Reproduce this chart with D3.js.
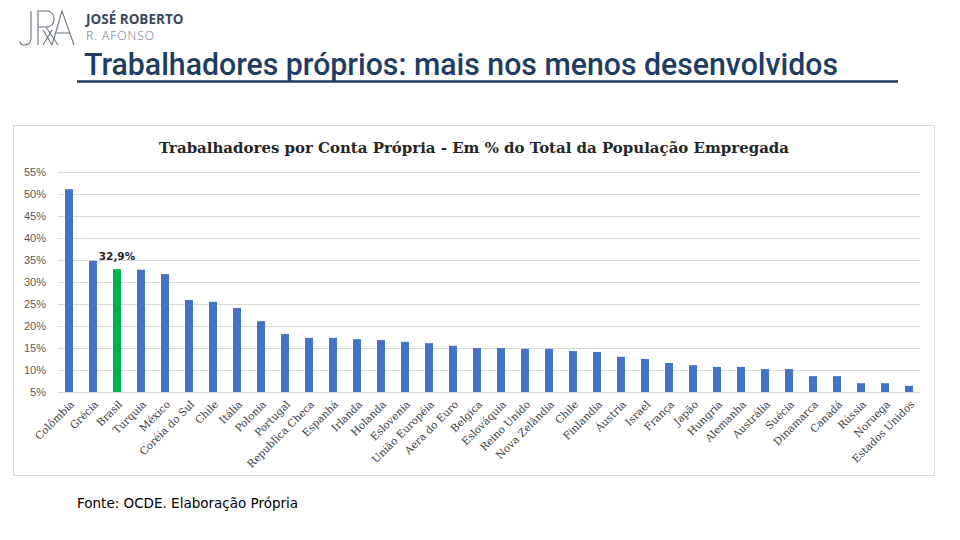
<!DOCTYPE html>
<html><head><meta charset="utf-8">
<script src="https://cdn.jsdelivr.net/npm/d3@7"></script>
<style>body{margin:0;background:#fff}svg{display:block}</style>
</head><body>
<svg id="c" width="960" height="540"></svg>
<script>
const countries = ["Colômbia","Grécia","Brasil","Turquia","México","Coréia do Sul","Chile","Itália","Polonia","Portugal","Republica Checa","Espanhá","Irlanda","Holanda","Eslovenia","União Européia","Aera do Euro","Belgica","Eslováquia","Reino Unido","Nova Zelândia","Chile","Finlandia","Áustria","Israel","França","Japão","Hungria","Alemanha","Austrália","Suécia","Dinamarca","Canadá","Rússia","Noruega","Estados Unidos"];
const values = [51.1,34.8,32.9,32.8,31.8,25.9,25.5,24.1,21.1,18.2,17.3,17.3,17.0,16.8,16.4,16.1,15.5,15.0,15.0,14.8,14.8,14.3,14.1,13.0,12.5,11.6,11.1,10.7,10.7,10.2,10.2,8.6,8.6,7.0,7.0,6.4];
const highlight = "Brasil";
const yTicks = [5,10,15,20,25,30,35,40,45,50,55];

const svg = d3.select("#c");

// header logo
const logo = svg.append("g").attr("fill","none").attr("stroke","#6b7580").attr("stroke-width",1.1);
logo.append("path").attr("d","M31 11 V38 Q31 45 24 45 Q20 45 20 41");
logo.append("path").attr("d","M38 45 V11 H46 Q54 11 54 19 Q54 27 46 27 H38 M46 27 L58 45");
logo.append("path").attr("d","M52 45 L62 11 L74 45 M56 33 H70");
logo.append("path").attr("d","M43 30 L52 45 M52 30 L43 45");
svg.append("text").attr("x",86).attr("y",24).attr("font-family","Open Sans, sans-serif").attr("font-weight",700)
  .attr("font-size",13.5).attr("fill","#3a4a5c").text("JOSÉ ROBERTO");
svg.append("text").attr("x",86).attr("y",40).attr("font-family","Open Sans, sans-serif").attr("font-weight",300)
  .attr("font-size",12).attr("fill","#6b7580").attr("letter-spacing",1).text("R. AFONSO");

// slide title
svg.append("text").attr("x",84).attr("y",75).attr("font-family","Roboto, sans-serif").attr("font-weight",500)
  .attr("font-size",31).attr("fill","#1f3d63").attr("textLength",754).attr("lengthAdjust","spacingAndGlyphs")
  .text("Trabalhadores próprios: mais nos menos desenvolvidos");
svg.append("line").attr("x1",77).attr("x2",898).attr("y1",81.5).attr("y2",81.5).attr("stroke","#1f3d63").attr("stroke-width",2.5);

// chart panel
svg.append("rect").attr("x",13.5).attr("y",125.5).attr("width",921).attr("height",350).attr("fill","#fff").attr("stroke","#d9d9d9");
svg.append("text").attr("x",474).attr("y",153).attr("text-anchor","middle").attr("font-family","DejaVu Serif, serif")
  .attr("font-weight",700).attr("font-size",15.5).attr("fill","#262626")
  .attr("textLength",630).attr("lengthAdjust","spacingAndGlyphs")
  .text("Trabalhadores por Conta Própria - Em % do Total da População Empregada");

const x = d3.scaleBand().domain(d3.range(countries.length)).range([57,921]).paddingInner(0.667).paddingOuter(0.333);
const y = d3.scaleLinear().domain([5,55]).range([392,172]);

const grid = svg.append("g");
grid.selectAll("line").data(yTicks).join("line")
  .attr("x1",58).attr("x2",920).attr("y1",d=>Math.round(y(d))+0.5).attr("y2",d=>Math.round(y(d))+0.5)
  .attr("stroke","#d9d9d9").attr("stroke-width",1);

const yAxis = d3.axisLeft(y).tickValues(yTicks).tickFormat(d=>d+"%").tickSize(0).tickPadding(0);
const ya = svg.append("g").attr("transform","translate(46,0)").call(yAxis);
ya.select(".domain").remove();
ya.selectAll("text").attr("font-family","Liberation Sans, sans-serif").attr("font-size",11).attr("fill","#595959");

svg.append("g").selectAll("rect").data(values).join("rect")
  .attr("x",(d,i)=>x(i)).attr("width",x.bandwidth())
  .attr("y",d=>y(d)).attr("height",d=>y(5)-y(d))
  .attr("fill",(d,i)=>countries[i]===highlight?"#00b050":"#4472c4");

const hi = countries.indexOf(highlight);
svg.append("text").attr("x",x(hi)+x.bandwidth()/2).attr("y",y(values[hi])-9)
  .attr("text-anchor","middle").attr("font-family","DejaVu Sans, sans-serif").attr("font-weight",700)
  .attr("font-size",10.5).attr("fill","#262626").text(String(values[hi]).replace(".",",")+"%");

const xAxis = d3.axisBottom(x).tickFormat(i=>countries[i]).tickSize(0).tickPadding(0);
const xa = svg.append("g").attr("transform","translate(0,392)").call(xAxis);
xa.select(".domain").remove();
xa.selectAll("text").attr("text-anchor","end").attr("font-family","DejaVu Serif, serif").attr("font-size",10.5)
  .attr("fill","#404040").attr("dy",0)
  .attr("transform","translate(6,13) rotate(-45)");

svg.append("text").attr("x",77).attr("y",508).attr("font-family","DejaVu Sans, sans-serif").attr("font-size",13.5)
  .attr("fill","#000").text("Fonte: OCDE. Elaboração Própria");
</script>
</body></html>
